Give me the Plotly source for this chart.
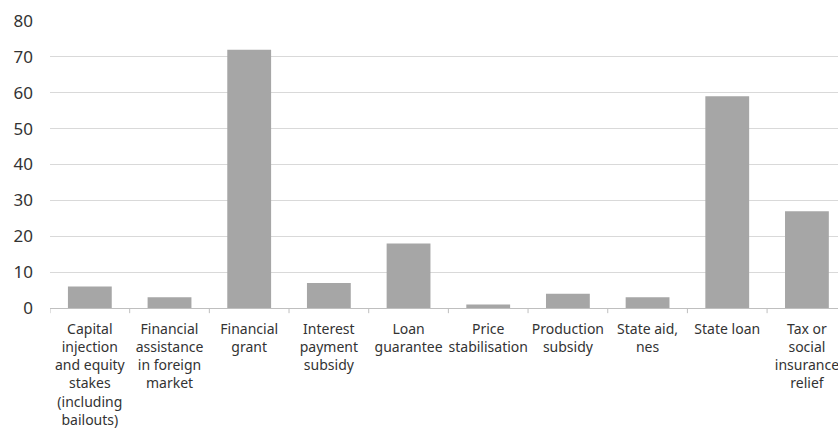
import plotly.graph_objects as go

categories = [
    "Capital<br>injection<br>and equity<br>stakes<br>(including<br>bailouts)",
    "Financial<br>assistance<br>in foreign<br>market",
    "Financial<br>grant",
    "Interest<br>payment<br>subsidy",
    "Loan<br>guarantee",
    "Price<br>stabilisation",
    "Production<br>subsidy",
    "State aid,<br>nes",
    "State loan",
    "Tax or<br>social<br>insurance<br>relief",
]
values = [6, 3, 72, 7, 18, 1, 4, 3, 59, 27]
y_ticks = [0, 10, 20, 30, 40, 50, 60, 70, 80]

fig = go.Figure(
    go.Bar(x=list(range(len(categories))), y=values, marker_color="#a6a6a6",
           marker_line_width=0)
)
fig.update_layout(
    width=838, height=429,
    margin=dict(l=50, r=0, t=21, b=121, autoexpand=False),
    paper_bgcolor="white", plot_bgcolor="white",
    bargap=0.45,
    showlegend=False,
    font=dict(family="Noto Sans, sans-serif", color="#333333", size=14),
)
fig.update_xaxes(
    tickmode="array", tickvals=list(range(len(categories))), ticktext=categories,
    range=[-0.5, 9.39], automargin=False, ticklabeloverflow="allow",
    showgrid=False, showline=True, linecolor="#bfbfbf", linewidth=1,
    ticks="", tickfont=dict(size=14, color="#333333"), ticklabelstandoff=8,
)
fig.update_yaxes(
    range=[0, 80], tickvals=y_ticks, automargin=False,
    showgrid=True, gridcolor="#d9d9d9", gridwidth=1,
    zeroline=False, showline=False, ticks="",
    tickfont=dict(size=17, color="#333333"), ticklabelstandoff=16,
)
# category boundary ticks
for i in range(len(categories) + 1):
    fig.add_shape(type="line", xref="x", yref="paper",
                  x0=i - 0.5, x1=i - 0.5, y0=0, y1=-0.018,
                  line=dict(color="#bfbfbf", width=1))
fig.write_html(
    "out.html",
    config={"displayModeBar": False},
    post_script="document.body.style.margin='0';document.body.style.overflow='hidden';",
)
